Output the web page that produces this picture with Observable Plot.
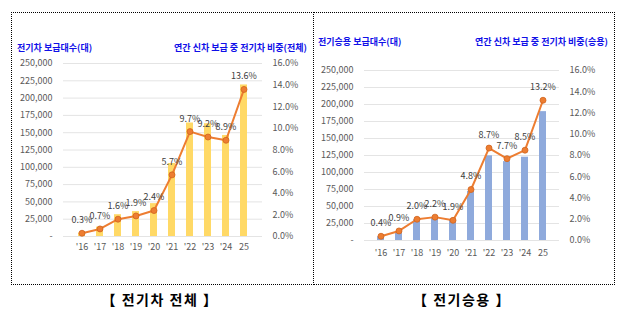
<!DOCTYPE html>
<html>
<head>
<meta charset="utf-8">
<script src="https://cdn.jsdelivr.net/npm/d3@7"></script>
<script src="https://cdn.jsdelivr.net/npm/@observablehq/plot@0.6"></script>
<style>
  html, body { margin: 0; padding: 0; background: #fff; }
  body { position: relative; width: 622px; height: 324px; overflow: hidden; font-family: "Noto Sans CJK KR", "Noto Sans", sans-serif; }
  .panel { position: absolute; box-sizing: border-box; border: 1px dotted #000; }
  .chart { position: absolute; top: 0; }
  .title { position: absolute; font-size: 9px; font-weight: bold; color: #1010e8; line-height: 12px; white-space: nowrap; }
  .caption { position: absolute; width: 200px; text-align: center; font-size: 14px; font-weight: bold; color: #000; line-height: 16px; white-space: nowrap; letter-spacing: 1.5px; }
</style>
</head>
<body>
<div class="panel" style="left:11px; top:12px; width:303px; height:273px;"></div>
<div class="panel" style="left:313px; top:12px; width:302px; height:273px; border-left:none;"></div>
<div id="left" class="chart" style="left:0px;"></div>
<div id="right" class="chart" style="left:311px;"></div>
<div class="title" style="left:17px; top:42px;">전기차 보급대수(대)</div>
<div class="title" style="right:315px; top:42px;">연간 신차 보급 중 전기차 비중(전체)</div>
<div class="title" style="left:318px; top:36px;">전기승용 보급대수(대)</div>
<div class="title" style="right:14px; top:36px;">연간 신차 보급 중 전기차 비중(승용)</div>
<div class="caption" style="left:60px; top:291px;">【 전기차 전체 】</div>
<div class="caption" style="left:362px; top:291px;">【 전기승용 】</div>
<script>
const years = ["'16", "'17", "'18", "'19", "'20", "'21", "'22", "'23", "'24", "25"];
const evTotal = [5000, 13500, 31500, 36000, 47500, 105500, 164000, 163000, 146000, 219000];
const shareTotal = [0.3, 0.7, 1.6, 1.9, 2.4, 5.7, 9.7, 9.2, 8.9, 13.6];
const evPassenger = [5500, 13000, 30500, 33500, 31000, 72000, 124500, 116000, 122500, 189500];
const sharePassenger = [0.4, 0.9, 2.0, 2.2, 1.9, 4.8, 8.7, 7.7, 8.5, 13.2];
const countTicks = [0, 25000, 50000, 75000, 100000, 125000, 150000, 175000, 200000, 225000, 250000];
const shareTicks = [0, 2, 4, 6, 8, 10, 12, 14, 16];

const k = 250000 / 16;
const fmtCount = d => d === 0 ? "-" : d3.format(",")(d);

function makeChart(counts, shares, barColor, m, xPad) {
  const data = years.map((y, i) => ({year: y, count: counts[i], share: shares[i]}));
  return Plot.plot({
    width: 311,
    height: 270,
    marginTop: m.top,
    marginBottom: m.bottom,
    marginLeft: m.left,
    marginRight: m.right,
    style: {fontFamily: "'Noto Sans CJK KR', 'Noto Sans', sans-serif", fontSize: "9px", color: "#595959", background: "transparent"},
    x: {domain: years, padding: 0.6, label: null},
    y: {domain: [0, 250000], label: null},
    marks: [
      Plot.ruleY(countTicks, {stroke: "#e4e4e4", strokeWidth: 1}),
      Plot.barY(data, {x: "year", y: "count", fill: barColor}),
      Plot.axisY({ticks: countTicks, tickSize: 0, tickPadding: 11, tickFormat: fmtCount, label: null}),
      Plot.axisY({anchor: "right", ticks: shareTicks.map(p => p * k), tickSize: 0, tickPadding: 10, tickFormat: d => (d / k).toFixed(1) + "%", label: null}),
      Plot.axisX({tickSize: 0, tickPadding: xPad, label: null}),
      Plot.line(data, {x: "year", y: d => d.share * k, stroke: "#ED7D31", strokeWidth: 2}),
      Plot.dot(data, {x: "year", y: d => d.share * k, r: 3, fill: "#ED7D31", stroke: "#D0651E", strokeWidth: 0.8}),
      Plot.text(data, {x: "year", y: d => d.share * k, text: d => d.share.toFixed(1) + "%", dy: -13, fill: "#404040", fontSize: 9})
    ]
  });
}

document.getElementById("left").append(
  makeChart(evTotal, shareTotal, "#FFD966", {top: 63, bottom: 34, left: 63, right: 49}, 7)
);
document.getElementById("right").append(
  makeChart(evPassenger, sharePassenger, "#8FAADC", {top: 70, bottom: 30, left: 53, right: 63}, 9)
);
</script>
</body>
</html>
